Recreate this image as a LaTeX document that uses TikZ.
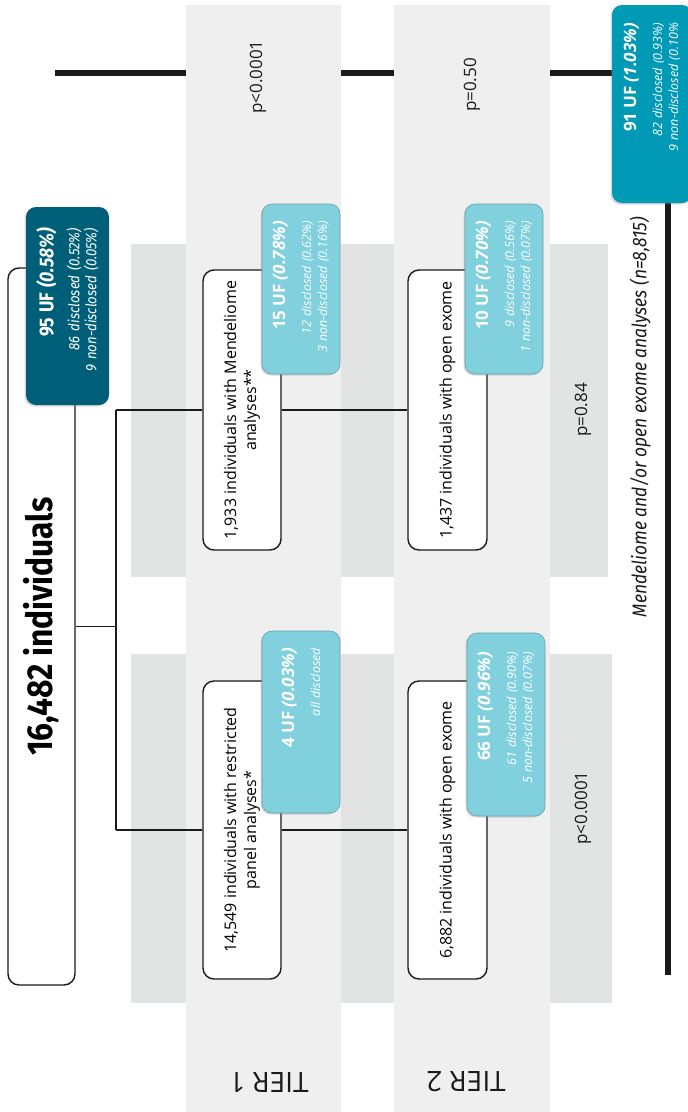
\documentclass[tikz,border=0pt]{standalone}
\usepackage{fontspec}
\setmainfont{Open Sans}
\newfontfamily\condf[FakeStretch=0.88]{Fira Sans}
\usetikzlibrary{calc,shadows}
\definecolor{colA}{HTML}{EFEFEF}
\definecolor{bandC}{HTML}{E2E3E3}
\definecolor{darkteal}{HTML}{005F78}
\definecolor{midteal}{HTML}{009AB6}
\definecolor{lightteal}{HTML}{80D0DE}
\definecolor{tealedge}{HTML}{6E9FA8}
\definecolor{linec}{HTML}{1A1A1A}
\newcommand{\uftitle}[2]{{\upshape\bfseries\fontsize{17}{19}\selectfont #1 UF \itshape(#2\%)}}
\begin{document}
\begin{tikzpicture}[x=1pt,y=-1pt,
  wbox/.style={draw=linec, line width=1.4pt, fill=white, rounded corners=11pt, rotate=90, inner sep=0pt, align=center, font=\fontsize{16}{20}\selectfont},
  ufbox/.style={rounded corners=10pt, rotate=90, inner xsep=17pt, inner ysep=0pt, align=right, text=white, font=\fontsize{12.5}{16}\selectfont\itshape,
     drop shadow={shadow xshift=-1.5pt, shadow yshift=-1.5pt, opacity=0.3}},
  lufbox/.style={ufbox, fill=lightteal, draw=tealedge, line width=0.6pt},
  conn/.style={draw=linec, line width=1.4pt},
  thickc/.style={draw=linec, line width=6pt},
  pval/.style={rotate=90, font=\fontsize{17}{20}\selectfont, text=linec, inner sep=0pt},
  tierlab/.style={rotate=180, font=\fontsize{28}{32}\selectfont, text=linec, inner sep=0pt},
]
\useasboundingbox (0,0) rectangle (688,1112);
\clip (0,0) rectangle (688,1112);
\fill[white] (0,0) rectangle (688,1112);
% background bands and columns
\fill[bandC] (131,244) rectangle (608,577);
\fill[bandC] (131,654) rectangle (612,1003);
\coordinate (tl) at (55,73);
\coordinate (tr) at (640,73);
\coordinate (vt) at (668,150);
\coordinate (bl) at (668,975);
\draw[thickc] (tl) -- (tr);
\draw[thickc] (vt) -- (bl);
\fill[colA] (186,5) rectangle (341,1112);
\fill[colA] (394,5) rectangle (550,1112);
% labels
\node[pval] (p1) at (258,77) {p<0.0001};
\node[pval] (p2) at (472,85) {p=0.50};
\node[pval] (p3) at (583,410) {p=0.84};
\node[pval] (p4) at (583,808) {p<0.0001};
\node[tierlab] (tier1) at (269,1082) {TIER 1};
\node[tierlab] (tier2) at (466,1082) {TIER 2};
\node[rotate=90, inner sep=0pt, text=linec, font=\condf\itshape\fontsize{19.8}{22}\selectfont] (mlab) at (640,417) {Mendeliome and/or open exome analyses (n=8,815)};
% white boxes
\node[wbox, minimum width=717pt, minimum height=67pt, font=\condf\bfseries\fontsize{36}{40}\selectfont] (main) at (41.5,626.5) {16,482 individuals};
\node[wbox, minimum width=280pt, minimum height=78pt] (mend) at (242,410) {1,933 individuals with Mendeliome\\analyses**};
\node[wbox, minimum width=298pt, minimum height=78pt] (restr) at (242,830) {14,549 individuals with restricted\\panel analyses*};
\node[wbox, minimum width=280pt, minimum height=79pt] (open1) at (447.5,410) {1,437 individuals with open exome};
\node[wbox, minimum width=298pt, minimum height=79pt] (open2) at (447.5,830) {6,882 individuals with open exome};
% connectors
\coordinate (jm) at (116,626.5);
\coordinate (jt) at (116,410);
\coordinate (jb) at (116,830);
\draw[conn] (main) -- (jm);
\draw[conn] (jt) -- (jb);
\draw[conn] (jt) -- (mend);
\draw[conn] (jb) -- (restr);
\draw[conn] (mend) -- (open1);
\draw[conn] (restr) -- (open2);
% UF boxes
\node[ufbox, fill=darkteal, text width=156pt, inner xsep=21pt, minimum height=83pt, font=\condf\itshape\fontsize{15}{17}\selectfont] (uf95) at (67.5,306) {{\upshape\bfseries\fontsize{20}{22}\selectfont 95 UF \itshape(0.58\%)}\\[9pt]86 disclosed (0.52\%)\\9 non-disclosed (0.05\%)};
\node[lufbox, text width=136pt, minimum height=78pt] (uf15) at (301,289) {\uftitle{15}{0.78}\\[10pt]12 disclosed (0.62\%)\\3 non-disclosed (0.16\%)};
\node[lufbox, text width=148pt, minimum height=78pt] (uf4) at (301,722) {\uftitle{4}{0.03}\\[10pt]all disclosed};
\node[lufbox, text width=136pt, minimum height=78pt] (uf10) at (504,289) {\uftitle{10}{0.70}\\[10pt]9 disclosed (0.56\%)\\1 non-disclosed (0.07\%)};
\node[lufbox, text width=145pt, inner xsep=19pt, minimum height=78pt] (uf66) at (506,724.5) {\uftitle{66}{0.96}\\[10pt]61 disclosed (0.90\%)\\5 non-disclosed (0.07\%)};
\node[ufbox, fill=midteal, text width=162pt, inner xsep=18pt, minimum height=80pt] (uf91) at (652,104) {\uftitle{91}{1.03}\\[10pt]82 disclosed (0.93\%)\\9 non-disclosed (0.10\%};
\end{tikzpicture}
\end{document}
